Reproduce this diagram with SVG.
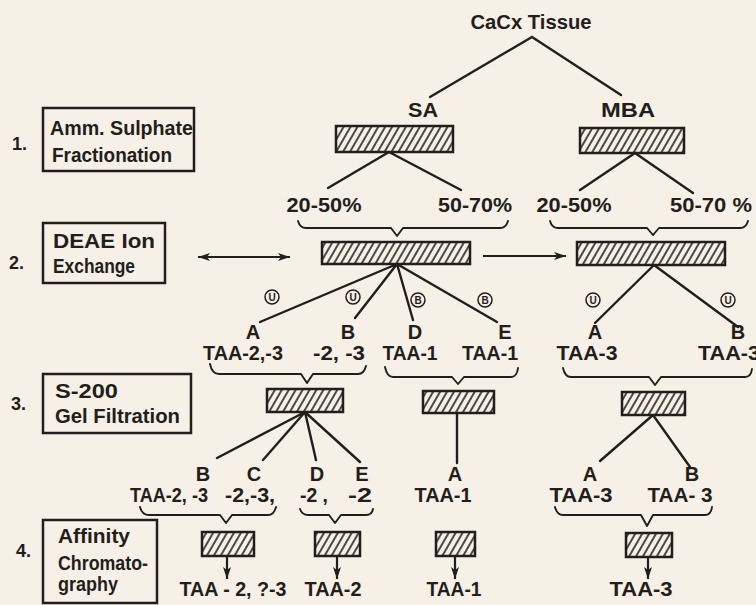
<svg xmlns="http://www.w3.org/2000/svg" width="756" height="605" viewBox="0 0 756 605">
<defs>
<style>
.bg{fill:#f6f0e7}
.ln{stroke:#221e1b;stroke-width:2.4;fill:none;stroke-linecap:round;stroke-linejoin:round}
.br{stroke:#221e1b;stroke-width:1.9;fill:none;stroke-linecap:round;stroke-linejoin:round}
.hb{fill:url(#hatch);stroke:#221e1b;stroke-width:2.5}
.lb{fill:none;stroke:#221e1b;stroke-width:2.5}
.t{font-family:"Liberation Sans",Arial,sans-serif;font-weight:bold;fill:#221e1b;font-size:20px}
.n{font-size:18px}
.m{text-anchor:middle}
.c{fill:none;stroke:#221e1b;stroke-width:1.5}
.ct{font-family:"Liberation Sans",Arial,sans-serif;font-weight:bold;fill:#221e1b;font-size:10px;text-anchor:middle}
.ar{stroke:#221e1b;stroke-width:2.2;fill:none;marker-end:url(#ah)}
</style>
<pattern id="hatch" patternUnits="userSpaceOnUse" width="6" height="10" patternTransform="rotate(30)">
<rect width="6" height="10" fill="#f6f0e7"/>
<line x1="1" y1="-1" x2="1" y2="11" stroke="#221e1b" stroke-width="1.6"/>
</pattern>
<marker id="ah" markerUnits="userSpaceOnUse" markerWidth="14" markerHeight="10" refX="12" refY="5" orient="auto-start-reverse">
<path d="M0,1 L12,5 L0,9 L3,5 Z" fill="#221e1b"/>
</marker>
</defs>
<rect class="bg" x="0" y="0" width="756" height="605"/>

<g id="step-labels">
<g id="step1"><text class="t n" x="12" y="150" font-size="16">1.</text><rect class="lb" x="43" y="108" width="151" height="63"/><text class="t" x="50" y="135" textLength="143" lengthAdjust="spacingAndGlyphs">Amm. Sulphate</text><text class="t" x="52" y="162" textLength="120" lengthAdjust="spacingAndGlyphs">Fractionation</text></g>
<g id="step2"><text class="t n" x="9" y="269">2.</text><rect class="lb" x="43" y="223" width="122" height="60"/><text class="t" x="53" y="248" textLength="102" lengthAdjust="spacingAndGlyphs">DEAE Ion</text><text class="t" x="53" y="273" textLength="82" lengthAdjust="spacingAndGlyphs">Exchange</text></g>
<g id="step3"><text class="t n" x="11" y="410">3.</text><rect class="lb" x="43" y="374" width="148" height="59"/><text class="t" x="55" y="398" textLength="63" lengthAdjust="spacingAndGlyphs">S-200</text><text class="t" x="55" y="423" textLength="125" lengthAdjust="spacingAndGlyphs">Gel Filtration</text></g>
<g id="step4"><text class="t n" x="16" y="557">4.</text><rect class="lb" x="43" y="520" width="114" height="83"/><text class="t" x="58" y="543" textLength="72" lengthAdjust="spacingAndGlyphs">Affinity</text><text class="t" x="58" y="570" textLength="90" lengthAdjust="spacingAndGlyphs">Chromato-</text><text class="t" x="58" y="591" textLength="60" lengthAdjust="spacingAndGlyphs">graphy</text></g>
</g>

<g id="connectors">
<path class="ln" d="M532,37 L430,97 M532,37 L621,95"/>
<path class="ln" d="M389,152 L328,188 M389,152 L461,190"/>
<path class="ln" d="M635,153 L580,190 M635,153 L693,193"/>
<path class="br" d="M298,221 Q300,228 306,228 L391,228 L397,236 L403,228 L500,228 Q506,228 508,221"/>
<path class="br" d="M550,221 Q552,228 558,228 L647,228 L653,235 L659,228 L740,228 Q746,228 748,221"/>
<line class="ar" x1="290" y1="257" x2="198" y2="257" style="marker-start:url(#ah)"/>
<line class="ar" x1="483" y1="256" x2="566" y2="256"/>
<path class="ln" d="M397,264 L260,322 M397,264 L355,318 M397,264 L413,320 M397,264 L497,322"/>
<path class="ln" d="M654,265 L595,323 M654,265 L738,327"/>
<path class="br" d="M210,364 Q212,374 219,374 L301,374 L307,383 L313,374 L358,374 Q364,374 366,366"/>
<path class="br" d="M385,367 Q387,377 393,377 L452,377 L458,384 L464,377 L511,377 Q517,377 518,368"/>
<path class="br" d="M563,368 Q565,377 571,377 L649,377 L655,385 L661,377 L745,377 Q751,377 752,369"/>
<path class="ln" d="M305,412 L217,458 M305,412 L263,460 M305,412 L316,460 M305,412 L360,462"/>
<path class="ln" d="M457,413 L457,463"/>
<path class="ln" d="M653,415 L600,461 M653,415 L690,467"/>
<path class="br" d="M140,507 Q142,515 149,515 L220,515 L226,523 L232,515 L268,515 Q274,515 276,507"/>
<path class="br" d="M300,509 Q302,515 308,515 L329,515 L335,523 L341,515 L366,515 Q372,515 373,509"/>
<path class="br" d="M555,507 Q557,515 563,515 L641,515 L647,526 L653,515 L705,515 Q711,515 712,507"/>
<line class="ar" x1="227" y1="556" x2="227" y2="579"/>
<line class="ar" x1="337" y1="556" x2="337" y2="579"/>
<line class="ar" x1="455" y1="556" x2="455" y2="579"/>
<line class="ar" x1="648" y1="557" x2="648" y2="579"/>
</g>

<g id="tissue"><text class="t m" x="531" y="29" textLength="121" lengthAdjust="spacingAndGlyphs">CaCx Tissue</text></g>
<g id="sa"><text class="t m" x="423" y="117" textLength="30" lengthAdjust="spacingAndGlyphs">SA</text><rect class="hb" x="336" y="126" width="117" height="26"/></g>
<g id="mba"><text class="t m" x="628" y="117" textLength="54" lengthAdjust="spacingAndGlyphs">MBA</text><rect class="hb" x="580" y="128" width="104" height="25"/></g>
<g id="fractions">
<text class="t m" x="324" y="212" textLength="75" lengthAdjust="spacingAndGlyphs">20-50%</text>
<text class="t m" x="475" y="212" textLength="74" lengthAdjust="spacingAndGlyphs">50-70%</text>
<text class="t m" x="574" y="212" textLength="75" lengthAdjust="spacingAndGlyphs">20-50%</text>
<text class="t m" x="711" y="212" textLength="82" lengthAdjust="spacingAndGlyphs">50-70 %</text>
</g>
<g id="deae-sa"><rect class="hb" x="322" y="242" width="148" height="22"/></g>
<g id="deae-mba"><rect class="hb" x="577" y="242" width="148" height="23"/></g>
<g id="deae-marks">
<circle class="c" cx="272" cy="297" r="7"/><text class="ct" x="272" y="300.5">U</text>
<circle class="c" cx="353" cy="297" r="7"/><text class="ct" x="353" y="300.5">U</text>
<circle class="c" cx="418" cy="300" r="7"/><text class="ct" x="418" y="303.5">B</text>
<circle class="c" cx="485" cy="300" r="7"/><text class="ct" x="485" y="303.5">B</text>
<circle class="c" cx="593" cy="300" r="7"/><text class="ct" x="593" y="303.5">U</text>
<circle class="c" cx="728" cy="300" r="7"/><text class="ct" x="728" y="303.5">U</text>
</g>
<g id="deae-fractions">
<text class="t m" x="253" y="339">A</text><text class="t m" x="243" y="360" textLength="80" lengthAdjust="spacingAndGlyphs">TAA-2,-3</text>
<text class="t m" x="348" y="339">B</text><text class="t m" x="339" y="360" textLength="52" lengthAdjust="spacingAndGlyphs">-2, -3</text>
<text class="t m" x="415" y="339">D</text><text class="t m" x="410" y="360" textLength="55" lengthAdjust="spacingAndGlyphs">TAA-1</text>
<text class="t m" x="505" y="339">E</text><text class="t m" x="490" y="360" textLength="56" lengthAdjust="spacingAndGlyphs">TAA-1</text>
<text class="t m" x="595" y="339">A</text><text class="t m" x="587" y="360" textLength="61" lengthAdjust="spacingAndGlyphs">TAA-3</text>
<text class="t m" x="738" y="339">B</text><text class="t m" x="729" y="360" textLength="62" lengthAdjust="spacingAndGlyphs">TAA-3</text>
</g>
<g id="gel1"><rect class="hb" x="267" y="389" width="76" height="23"/></g>
<g id="gel2"><rect class="hb" x="423" y="391" width="71" height="22"/></g>
<g id="gel3"><rect class="hb" x="622" y="392" width="63" height="23"/></g>
<g id="gel-fractions">
<text class="t m" x="203" y="481">B</text><text class="t m" x="169" y="502" textLength="78" lengthAdjust="spacingAndGlyphs">TAA-2, -3</text>
<text class="t m" x="254" y="481">C</text><text class="t m" x="250" y="502" textLength="50" lengthAdjust="spacingAndGlyphs">-2,-3,</text>
<text class="t m" x="317" y="481">D</text><text class="t" x="300" y="502" textLength="28" lengthAdjust="spacingAndGlyphs">-2 ,</text>
<text class="t m" x="362" y="481">E</text><text class="t" x="348" y="502" textLength="24" lengthAdjust="spacingAndGlyphs">-2</text>
<text class="t m" x="455" y="481">A</text><text class="t m" x="443" y="502" textLength="57" lengthAdjust="spacingAndGlyphs">TAA-1</text>
<text class="t m" x="590" y="481">A</text><text class="t m" x="581" y="502" textLength="63" lengthAdjust="spacingAndGlyphs">TAA-3</text>
<text class="t m" x="692" y="481">B</text><text class="t m" x="680" y="502" textLength="65" lengthAdjust="spacingAndGlyphs">TAA- 3</text>
</g>
<g id="aff1"><rect class="hb" x="202" y="532" width="52" height="24"/><text class="t m" x="233" y="596" textLength="107" lengthAdjust="spacingAndGlyphs">TAA - 2, ?-3</text></g>
<g id="aff2"><rect class="hb" x="315" y="532" width="45" height="24"/><text class="t m" x="333" y="596" textLength="57" lengthAdjust="spacingAndGlyphs">TAA-2</text></g>
<g id="aff3"><rect class="hb" x="436" y="532" width="39" height="24"/><text class="t m" x="454" y="596" textLength="55" lengthAdjust="spacingAndGlyphs">TAA-1</text></g>
<g id="aff4"><rect class="hb" x="626" y="533" width="46" height="24"/><text class="t m" x="641" y="596" textLength="63" lengthAdjust="spacingAndGlyphs">TAA-3</text></g>
</svg>
